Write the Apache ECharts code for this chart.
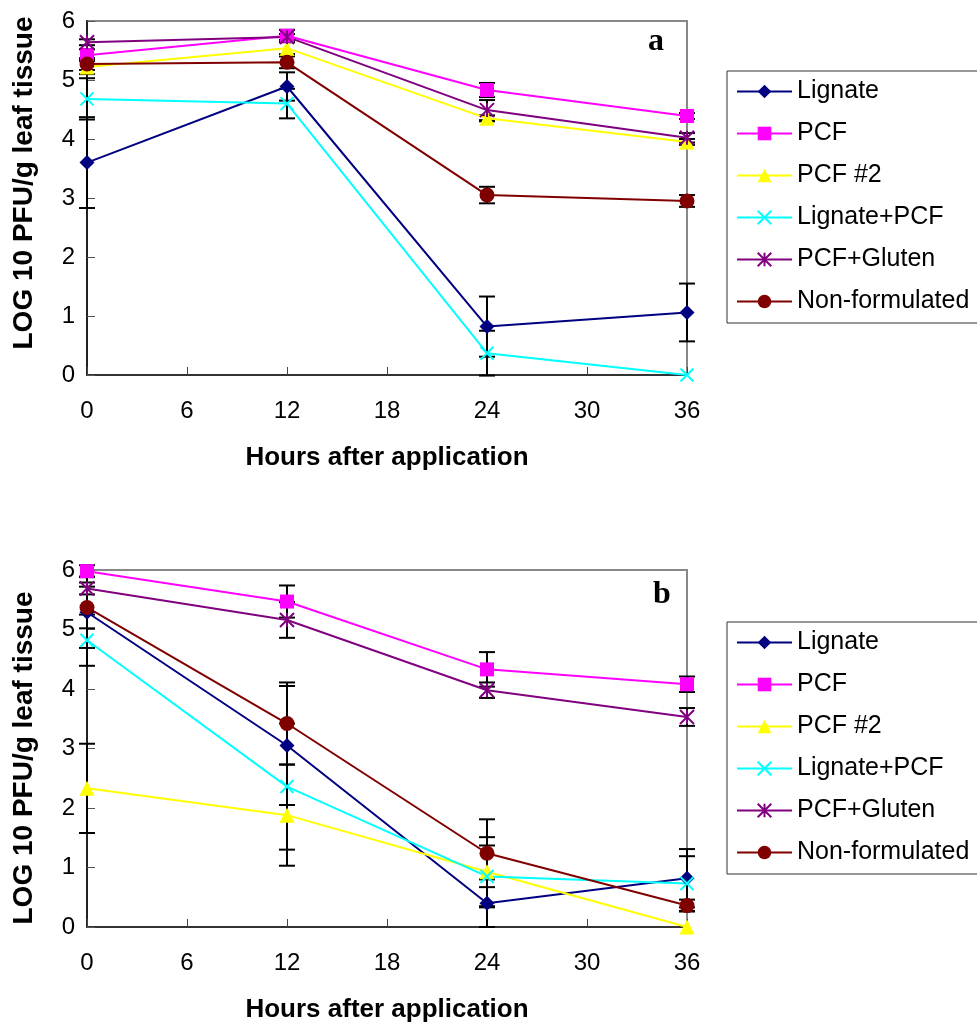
<!DOCTYPE html>
<html>
<head>
<meta charset="utf-8">
<script src="https://cdn.jsdelivr.net/npm/echarts@6/dist/echarts.min.js"></script>
<style>
  html, body { margin: 0; padding: 0; background: #fff; }
  #chart { width: 977px; height: 1026px; }
</style>
</head>
<body>
<div id="chart"></div>
<script>
// hours after application
var hours = [0, 12, 24, 36];
var names = ['Lignate', 'PCF', 'PCF #2', 'Lignate+PCF', 'PCF+Gluten', 'Non-formulated'];

// panel a values (log10 PFU/g) and error bar half-widths
var lignateA = [3.60, 4.89, 0.82, 1.06];
var pcfA = [5.42, 5.75, 4.83, 4.39];
var pcf2A = [5.22, 5.54, 4.35, 3.95];
var lignatePcfA = [4.68, 4.60, 0.37, 0.00];
var pcfGlutenA = [5.64, 5.73, 4.49, 4.02];
var nonFormA = [5.27, 5.30, 3.05, 2.95];

var lignateErrA = [0.77, 0.24, 0.51, 0.49];
var pcfErrA = [0.10, 0.10, 0.12, 0.05];
var pcf2ErrA = [0.12, 0.10, 0.05, 0.05];
var lignatePcfErrA = [0.35, 0.25, 0.38, 0.00];
var pcfGlutenErrA = [0.05, 0.05, 0.17, 0.08];
var nonFormErrA = [0.10, 0.10, 0.14, 0.10];

// panel b
var lignateB = [5.29, 3.05, 0.40, 0.82];
var pcfB = [5.98, 5.47, 4.33, 4.08];
var pcf2B = [2.33, 1.88, 0.93, 0.00];
var lignatePcfB = [4.82, 2.36, 0.85, 0.73];
var pcfGlutenB = [5.69, 5.16, 3.98, 3.53];
var nonFormB = [5.37, 3.42, 1.24, 0.36];

var lignateErrB = [0.60, 1.00, 0.40, 0.49];
var pcfErrB = [0.10, 0.27, 0.29, 0.13];
var pcf2ErrB = [0.75, 0.85, 0.58, 0.00];
var lignatePcfErrB = [0.43, 1.06, 0.52, 0.46];
var pcfGlutenErrB = [0.10, 0.30, 0.13, 0.15];
var nonFormErrB = [0.35, 0.69, 0.57, 0.10];

var colors = ['#000080', '#FF00FF', '#FFFF00', '#00FFFF', '#800080', '#800000'];
var symbols = [
  'diamond', 'rect', 'triangle',
  'path://M0,0L10,10M10,0L0,10',
  'path://M5,0L5,10M0,0L10,10M10,0L0,10',
  'circle'
];
var symbolSizes = [15, 14, 15, 13, 14, 15];

var valuesA = [lignateA, pcfA, pcf2A, lignatePcfA, pcfGlutenA, nonFormA];
var errorsA = [lignateErrA, pcfErrA, pcf2ErrA, lignatePcfErrA, pcfGlutenErrA, nonFormErrA];
var valuesB = [lignateB, pcfB, pcf2B, lignatePcfB, pcfGlutenB, nonFormB];
var errorsB = [lignateErrB, pcfErrB, pcf2ErrB, lignatePcfErrB, pcfGlutenErrB, nonFormErrB];

var font = 'Liberation Sans, Arial, sans-serif';
var yTitle = 'LOG 10 PFU/g leaf tissue';

function errData(values, errors) {
  var res = [];
  for (var s = 0; s < values.length; s++) {
    for (var i = 0; i < hours.length; i++) {
      if (errors[s][i] > 0) {
        res.push([hours[i], values[s][i] - errors[s][i], values[s][i] + errors[s][i]]);
      }
    }
  }
  return res;
}

function renderErr(params, api) {
  var lo = api.coord([api.value(0), api.value(1)]);
  var hi = api.coord([api.value(0), api.value(2)]);
  var w = 8;
  var st = { stroke: '#000', lineWidth: 2 };
  return {
    type: 'group',
    children: [
      { type: 'line', shape: { x1: lo[0], y1: lo[1], x2: hi[0], y2: hi[1] }, style: st },
      { type: 'line', shape: { x1: lo[0] - w, y1: lo[1], x2: lo[0] + w, y2: lo[1] }, style: st },
      { type: 'line', shape: { x1: hi[0] - w, y1: hi[1], x2: hi[0] + w, y2: hi[1] }, style: st }
    ]
  };
}

function lineSeries(values, idx) {
  var res = [];
  for (var s = 0; s < names.length; s++) {
    var pts = [];
    for (var i = 0; i < hours.length; i++) pts.push([hours[i], values[s][i]]);
    var isPath = symbols[s].indexOf('path://') === 0;
    res.push({
      name: names[s],
      type: 'line',
      xAxisIndex: idx,
      yAxisIndex: idx,
      data: pts,
      symbol: symbols[s],
      symbolSize: symbolSizes[s],
      showAllSymbol: true,
      lineStyle: { color: colors[s], width: 2 },
      itemStyle: isPath
        ? { color: colors[s], borderColor: colors[s], borderWidth: 2 }
        : { color: colors[s], borderWidth: 0 },
      z: 3
    });
  }
  return res;
}

function xAxisFor(idx) {
  return {
    type: 'value', gridIndex: idx, min: 0, max: 36, interval: 6,
    name: 'Hours after application', nameLocation: 'middle', nameGap: 70,
    nameTextStyle: { fontFamily: font, fontWeight: 'bold', fontSize: 26, color: '#000' },
    axisLine: { lineStyle: { color: '#333', width: 2 } },
    axisTick: { inside: true, length: 8, lineStyle: { color: '#444', width: 1 } },
    axisLabel: { margin: 24, fontFamily: font, fontSize: 24, color: '#000' },
    splitLine: { show: false }
  };
}

function yAxisFor(idx) {
  return {
    type: 'value', gridIndex: idx, min: 0, max: 6, interval: 1,
    axisLine: { lineStyle: { color: '#222', width: 2 } },
    axisTick: { inside: true, length: 8, lineStyle: { color: '#555', width: 1 } },
    axisLabel: { margin: 12, fontFamily: font, fontSize: 24, color: '#000' },
    splitLine: { show: false }
  };
}

function legendFor(top) {
  return {
    data: names,
    orient: 'vertical',
    left: 727,
    top: top,
    itemWidth: 55,
    itemHeight: 17,
    itemGap: 17,
    padding: [8, 40, 9, 9],
    borderColor: '#333',
    borderWidth: 1,
    selectedMode: false,
    textStyle: { fontFamily: font, fontSize: 25, lineHeight: 24, color: '#000' }
  };
}

function yTitleText(cy) {
  return {
    type: 'text', x: 24, y: cy, rotation: Math.PI / 2,
    style: {
      text: yTitle, fill: '#000', align: 'center', verticalAlign: 'middle',
      font: 'bold 28px "Liberation Sans", Arial, sans-serif'
    }
  };
}

var chart = echarts.init(document.getElementById('chart'), null, { renderer: 'canvas' });

var option = {
  animation: false,
  backgroundColor: '#fff',
  grid: [
    { left: 87, top: 21, width: 600, height: 354, show: true, borderColor: '#888', borderWidth: 2, backgroundColor: 'transparent' },
    { left: 87, top: 570, width: 600, height: 357, show: true, borderColor: '#888', borderWidth: 2, backgroundColor: 'transparent' }
  ],
  xAxis: [xAxisFor(0), xAxisFor(1)],
  yAxis: [yAxisFor(0), yAxisFor(1)],
  legend: [legendFor(71), legendFor(622)],
  graphic: [
    yTitleText(183),
    yTitleText(758),
    { type: 'text', left: 648, top: 26, style: { text: 'a', font: 'bold 32px "Liberation Serif", "Times New Roman", serif', fill: '#000' } },
    { type: 'text', left: 653, top: 579, style: { text: 'b', font: 'bold 32px "Liberation Serif", "Times New Roman", serif', fill: '#000' } }
  ],
  series: [
    { type: 'custom', xAxisIndex: 0, yAxisIndex: 0, renderItem: renderErr, data: errData(valuesA, errorsA), z: 2, silent: true },
    { type: 'custom', xAxisIndex: 1, yAxisIndex: 1, renderItem: renderErr, data: errData(valuesB, errorsB), z: 2, silent: true }
  ].concat(lineSeries(valuesA, 0)).concat(lineSeries(valuesB, 1))
};

chart.setOption(option);
</script>
</body>
</html>
